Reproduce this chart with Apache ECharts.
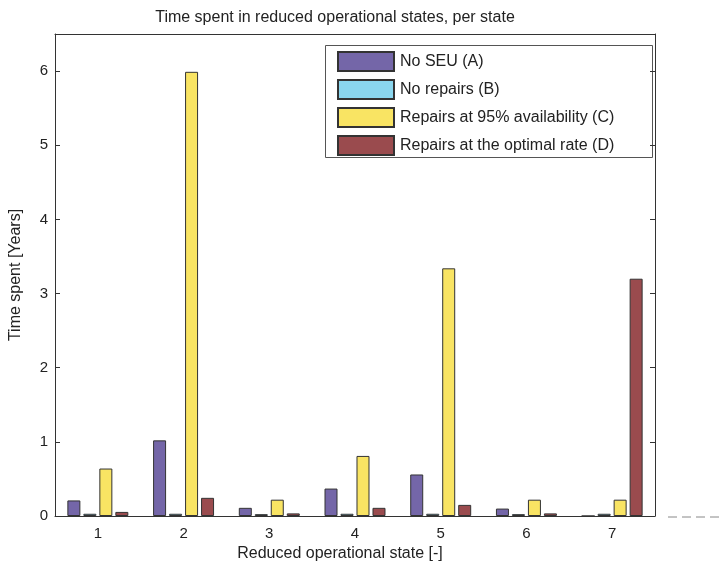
<!DOCTYPE html>
<html>
<head>
<meta charset="utf-8">
<script src="https://cdn.jsdelivr.net/npm/echarts@6/dist/echarts.min.js"></script>
<style>html,body{margin:0;padding:0;background:#fff}#c{width:721px;height:567px}</style>
</head>
<body>
<div id="c"></div>
<script>
const categories = ['1', '2', '3', '4', '5', '6', '7'];
const seriesNames = ['No SEU (A)', 'No repairs (B)', 'Repairs at 95% availability (C)', 'Repairs at the optimal rate (D)'];
const noSEU = [0.21, 1.02, 0.11, 0.37, 0.56, 0.10, 0];
const noRepairs = [0.03, 0.03, 0.025, 0.03, 0.03, 0.025, 0.03];
const repairs95 = [0.64, 5.99, 0.22, 0.81, 3.34, 0.22, 0.22];
const repairsOptimal = [0.055, 0.245, 0.035, 0.11, 0.15, 0.035, 3.2];
const yTicks = [0, 1, 2, 3, 4, 5, 6];
const colors = ['#7466a8', '#8ad6ee', '#f9e463', '#9a4b4e'];

const FONT = '"Liberation Sans", Arial, Helvetica, sans-serif';
const values = [noSEU, noRepairs, repairs95, repairsOptimal];

const chart = echarts.init(document.getElementById('c'), null, {renderer: 'canvas'});
chart.setOption({
  animation: false,
  backgroundColor: '#fff',
  title: {
    text: 'Time spent in reduced operational states, per state',
    left: 330, textAlign: 'center', top: 5,
    textStyle: {fontFamily: FONT, fontSize: 16, fontWeight: 'normal', color: '#222'}
  },
  grid: {left: 51, right: 66, top: 34, bottom: 51},
  legend: {
    orient: 'vertical', left: 337, top: 51,
    itemWidth: 56, itemHeight: 19, itemGap: 7, padding: 0,
    icon: 'rect',
    data: seriesNames,
    textStyle: {fontFamily: FONT, fontSize: 16, color: '#222', padding: [0, 0, 0, 1]}
  },
  graphic: [
    {type: 'rect', left: 325, top: 45, shape: {width: 327, height: 112}, style: {fill: '#fff', stroke: '#555', lineWidth: 1}, z: 0, zlevel: 0},
    {type: 'line', shape: {x1: 668, y1: 517, x2: 721, y2: 517}, style: {stroke: '#888', lineWidth: 1, lineDash: [9, 5]}}
  ],
  xAxis: [
    {
      type: 'category', data: categories, position: 'bottom',
      name: 'Reduced operational state [-]', nameLocation: 'middle', nameGap: 30,
      nameTextStyle: {fontFamily: FONT, fontSize: 16, color: '#222', padding: [0, 30, 0, 0]},
      axisLine: {onZero: false, lineStyle: {color: '#333', width: 1}},
      axisTick: {alignWithLabel: true, inside: true, length: 5, lineStyle: {color: '#333'}},
      axisLabel: {fontFamily: FONT, fontSize: 15, color: '#222', margin: 10}
    },
    {
      type: 'category', data: categories, position: 'top',
      axisLine: {onZero: false, lineStyle: {color: '#333', width: 1}},
      axisTick: {alignWithLabel: true, inside: true, length: 5, lineStyle: {color: '#333'}},
      axisLabel: {show: false}
    }
  ],
  yAxis: [
    {
      type: 'value', min: 0, max: 6.5, interval: 1, position: 'left',
      name: 'Time spent [Years]', nameLocation: 'middle', nameGap: 31, nameRotate: 90,
      nameTextStyle: {fontFamily: FONT, fontSize: 16, color: '#222'},
      axisLine: {show: true, onZero: false, lineStyle: {color: '#333', width: 1}},
      axisTick: {show: true, inside: true, length: 5, lineStyle: {color: '#333'}},
      axisLabel: {fontFamily: FONT, fontSize: 15, color: '#222', margin: 7, showMaxLabel: false,
        formatter: v => yTicks.includes(v) ? String(v) : ''},
      splitLine: {show: false}
    },
    {
      type: 'value', min: 0, max: 6.5, interval: 1, position: 'right',
      axisLine: {show: true, onZero: false, lineStyle: {color: '#333', width: 1}},
      axisTick: {show: true, inside: true, length: 5, lineStyle: {color: '#333'}},
      axisLabel: {show: false},
      splitLine: {show: false}
    }
  ],
  series: seriesNames.map((name, i) => ({
    name, type: 'bar', data: values[i], xAxisIndex: 0, yAxisIndex: 0,
    barWidth: 13, barGap: '23%',
    itemStyle: {color: colors[i], borderColor: '#333', borderWidth: 1},
    z: 3
  }))
});
</script>
</body>
</html>
